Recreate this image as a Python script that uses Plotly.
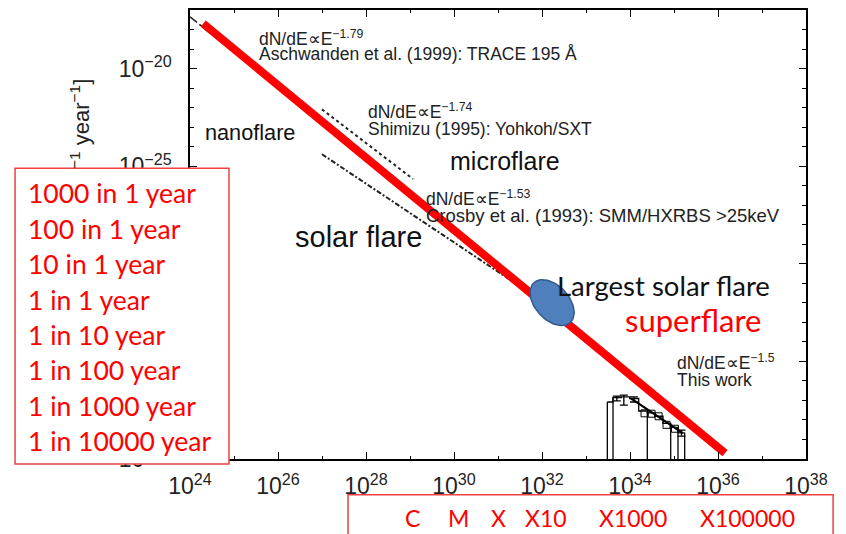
import numpy as np
import plotly.graph_objects as go

# ---------------- data (log10 values) ----------------
x_tick_exp = [24, 26, 28, 30, 32, 34, 36, 38]
x_minor_exp = [25, 27, 29, 31, 33, 35, 37]
y_tick_exp = [-40, -35, -30, -25, -20]
y_minor_exp = [e for e in range(-40, -16) if e % 5 != 0]

# thick red power law
red_logE = [24.30, 36.16]
red_logN = [-17.70, -39.70]

# published distributions
aschwanden_logE = [24.00, 25.75]
aschwanden_logN = [-17.35, -20.51]
shimizu_logE = [27.00, 29.07]
shimizu_logN = [-22.09, -25.66]
crosby_logE = [27.00, 31.68]
crosby_logN = [-24.39, -31.43]

# this work: histogram
hist_edges_logE = [33.485, 33.614, 33.802, 33.993, 34.198, 34.393, 34.561, 34.750, 34.925, 35.091, 35.243]
hist_logN = [-37.08, -36.85, -36.82, -36.90, -37.54, -37.64, -37.81, -38.18, -38.38, -38.66]
hist_bar_edges = [0, 1, 5, 8, 9, 10]
err_logE = [33.70, 33.86, 34.09, 35.17]
err_hi_logN = [-36.78, -36.73, -36.82, -38.52]
err_lo_logN = [-37.02, -37.24, -37.08, -38.83]
sq_logE = [34.33, 34.49, 34.65, 34.83, 35.02]
sq_logN = [-37.66, -37.68, -37.81, -38.25, -38.45]
fit_logE = [34.02, 35.20]
fit_logN = [-36.89, -38.67]

# largest solar flare
big_logE, big_logN = 32.23, -31.99

# frequency guides (C, X, X1000)
guide_logE = [29.02, 31.91, 34.93]
guide_logN = [-26.63, -31.68, -37.40]
guide_start_logE = [24.00, 24.07, 24.57]
guide_end_logN = [-40.97, -39.18, -39.64]
guide_colors = ["#4a7cc4", "#4a7cc4", "#9db9df"]

freq_labels = ["1000 in 1 year", "100 in 1 year", "10 in 1 year", "1 in 1 year",
               "1 in 10 year", "1 in 100 year", "1 in 1000 year", "1 in 10000 year"]
goes_labels = ["C", "M", "X", "X10", "X1000", "X100000"]
goes_logE = [29.05, 30.11, 31.00, 32.09, 34.07, 36.66]

XR = [24, 38]
YR = [-40, -17]


def p(v):
    return [10.0 ** a for a in v]


fig = go.Figure()

line_col = "#222222"
fig.add_trace(go.Scatter(x=p(aschwanden_logE), y=p(aschwanden_logN), mode="lines",
                         line=dict(color=line_col, width=1.5, dash="dashdot"), showlegend=False))
fig.add_trace(go.Scatter(x=p(shimizu_logE), y=p(shimizu_logN), mode="lines",
                         line=dict(color=line_col, width=2, dash="dot"), showlegend=False))
fig.add_trace(go.Scatter(x=p(crosby_logE), y=p(crosby_logN), mode="lines",
                         line=dict(color=line_col, width=2, dash="5px,2px,2px,2px"), showlegend=False))

# histogram outline
fig.add_trace(go.Scatter(x=p(hist_edges_logE), y=p(hist_logN + [hist_logN[-1]]), mode="lines",
                         line=dict(color="black", width=1.3, shape="hv"), showlegend=False))
bx, by = [], []
for i in hist_bar_edges:
    left = hist_logN[i - 1] if i > 0 else -99
    right = hist_logN[i] if i < len(hist_logN) else -99
    top = max(left, right)
    bx += [10 ** hist_edges_logE[i], 10 ** hist_edges_logE[i], None]
    by += [10 ** YR[0], 10 ** top, None]
fig.add_trace(go.Scatter(x=bx, y=by, mode="lines", line=dict(color="black", width=1.3), showlegend=False))
mid = [(a + b) / 2 for a, b in zip(err_hi_logN, err_lo_logN)]
fig.add_trace(go.Scatter(
    x=p(err_logE), y=p(mid), mode="markers", marker=dict(size=1, color="black"),
    error_y=dict(type="data", symmetric=False,
                 array=[10 ** h - 10 ** m for h, m in zip(err_hi_logN, mid)],
                 arrayminus=[10 ** m - 10 ** l for l, m in zip(err_lo_logN, mid)],
                 color="black", thickness=1.3, width=4),
    showlegend=False))
fig.add_trace(go.Scatter(x=p(sq_logE), y=p(sq_logN), mode="markers",
                         marker=dict(symbol="square-open", size=7, color="black", line=dict(width=1)),
                         showlegend=False))
fig.add_trace(go.Scatter(x=p(fit_logE), y=p(fit_logN), mode="lines",
                         line=dict(color="black", width=2.2), showlegend=False))

# red line
fig.add_trace(go.Scatter(x=p(red_logE), y=p(red_logN), mode="lines",
                         line=dict(color="#ff0000", width=8), showlegend=False))

# ellipse for largest solar flare
t = np.linspace(0, 2 * np.pi, 90)
th = np.deg2rad(48)
a_px, b_px = 27, 17
dx = a_px * np.cos(t) * np.cos(th) - b_px * np.sin(t) * np.sin(th)
dy = a_px * np.cos(t) * np.sin(th) + b_px * np.sin(t) * np.cos(th)
ex = big_logE + dx / 44.0
ey = big_logN - dy / 19.6
fig.add_trace(go.Scatter(x=10 ** ex, y=10 ** ey, mode="lines", fill="toself",
                         fillcolor="#4f7fbd", line=dict(color="#35598a", width=1.5),
                         showlegend=False))

shapes = []
shapes.append(dict(type="rect", xref="paper", yref="paper", x0=-0.284, x1=0.0633, y0=-0.011, y1=0.6475,
                   line=dict(color="#f04040", width=1.5), fillcolor="white", layer="above"))
shapes.append(dict(type="rect", xref="paper", yref="paper", x0=0.2565, x1=1.044, y0=-0.0798, y1=-0.25,
                   line=dict(color="#f04040", width=1.5), fillcolor="white", layer="above"))
for i in range(3):
    shapes.append(dict(type="line", xref="x", yref="y", x0=guide_start_logE[i], x1=guide_logE[i],
                       y0=guide_logN[i], y1=guide_logN[i], line=dict(color=guide_colors[i], width=1.2),
                       layer="above"))
    y_top = (guide_logN[i] - YR[0]) / (YR[1] - YR[0])
    y_bot = (guide_end_logN[i] - YR[0]) / (YR[1] - YR[0])
    shapes.append(dict(type="line", xref="x", yref="paper", x0=guide_logE[i], x1=guide_logE[i],
                       y0=y_top, y1=y_bot, line=dict(color=guide_colors[i], width=1.2), layer="above"))
shapes.append(dict(type="line", xref="x", yref="y", x0=25.07, x1=25.07, y0=-19.95, y1=-22.60,
                   line=dict(color="#b0b0b0", width=1)))
shapes.append(dict(type="line", xref="x", yref="y", x0=28.93, x1=29.68, y0=-25.22, y1=-25.17,
                   line=dict(color="#c0c0c0", width=1)))

ann = []
small = dict(family="Liberation Sans, Arial", size=17.5, color="#222222")


def txt(x, y, s, font, xanchor="left", xref="x", yref="y"):
    ann.append(dict(x=x, y=y, xref=xref, yref=yref, text=s, showarrow=False, xanchor=xanchor,
                    yanchor="middle", font=font))


txt(25.52, -18.42, "dN/dE∝E<sup>−1.79</sup>", small)
txt(25.52, -19.23, "Aschwanden et al. (1999): TRACE 195 Å", small)
txt(28.00, -22.19, "dN/dE∝E<sup>−1.74</sup>", small)
txt(28.00, -23.11, "Shimizu (1995): Yohkoh/SXT", small)
txt(29.32, -26.63, "dN/dE∝E<sup>−1.53</sup>", small)
txt(29.32, -27.55, "Crosby et al. (1993): SMM/HXRBS >25keV", dict(small, size=18.5))
txt(35.02, -35.05, "dN/dE∝E<sup>−1.5</sup>", small)
txt(35.02, -35.97, "This work", small)
txt(24.30, -23.30, "nanoflare", dict(family="Liberation Sans, Arial", size=21.7, color="#111"))
txt(29.86, -24.74, "microflare", dict(family="Liberation Sans, Arial", size=25, color="#111"))
txt(26.34, -28.62, "solar flare", dict(family="Liberation Sans, Arial", size=29, color="#111"))
txt(32.30, -31.12, "Largest solar flare", dict(family="Lato", size=27.5, color="#111"))
txt(33.84, -32.90, "superflare", dict(family="Lato", size=31, color="#ff0000"))

ann.append(dict(x=-0.1786, y=0.851, xref="paper", yref="paper", text="<sup>−1</sup> year<sup>−1</sup>]",
                textangle=-90, showarrow=False, xanchor="center", yanchor="top",
                font=dict(family="Liberation Sans, Arial", size=22, color="#222")))

H = 451.0
for i, s in enumerate(freq_labels):
    ypix = 192 + 35.6 * i
    ann.append(dict(x=-0.266, y=(459 - ypix) / H, xref="paper", yref="paper", text=s, showarrow=False,
                    xanchor="left", yanchor="middle", font=dict(family="Lato", size=26.5, color="#ff0000")))
for s, e in zip(goes_labels, goes_logE):
    ann.append(dict(x=e, y=-0.131, xref="x", yref="paper", text=s, showarrow=False,
                    xanchor="center", yanchor="middle", font=dict(family="Lato", size=23, color="#ff0000")))

fig.update_layout(
    width=846, height=534,
    margin=dict(l=190, r=40, t=8, b=75),
    paper_bgcolor="white", plot_bgcolor="white",
    shapes=shapes, annotations=ann,
    font=dict(family="Liberation Sans, Arial", color="#222"),
)
fig.update_xaxes(type="log", range=XR, tickvals=[10.0 ** e for e in x_tick_exp],
                 ticktext=[f"10<sup>{e}</sup>" for e in x_tick_exp],
                 ticks="inside", ticklen=7, tickcolor="black", tickwidth=1,
                 minor=dict(tickvals=[10.0 ** e for e in x_minor_exp], ticks="inside", ticklen=3,
                            tickcolor="black"),
                 showline=True, linecolor="black", linewidth=1.5, mirror="allticks",
                 showgrid=False, zeroline=False, tickfont=dict(size=23, color="#222"),
                 ticklabelstandoff=6)
fig.update_yaxes(type="log", range=YR, tickvals=[10.0 ** e for e in y_tick_exp],
                 ticktext=[f"10<sup>−{-e}</sup>" for e in y_tick_exp],
                 ticks="inside", ticklen=7, tickcolor="black", tickwidth=1,
                 minor=dict(tickvals=[10.0 ** e for e in y_minor_exp], ticks="inside", ticklen=4,
                            tickcolor="black"),
                 showline=True, linecolor="black", linewidth=1.5, mirror="allticks",
                 showgrid=False, zeroline=False, tickfont=dict(size=23, color="#222"),
                 ticklabelstandoff=12)

fig.write_html("out.html", post_script="document.body.style.margin='0px';",
               config={"displayModeBar": False})
